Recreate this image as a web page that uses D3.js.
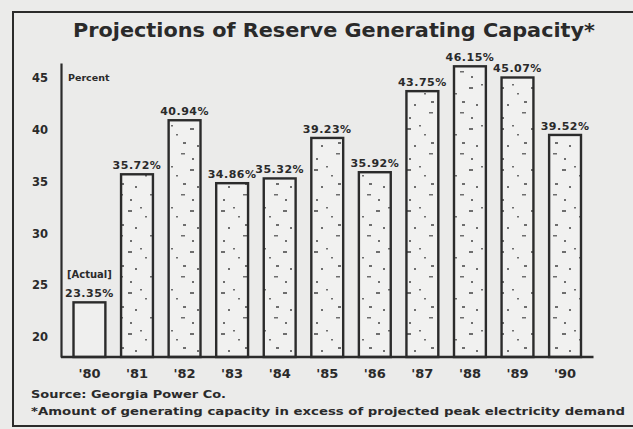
<!DOCTYPE html>
<html>
<head>
<meta charset="utf-8">
<script src="https://cdn.jsdelivr.net/npm/d3@7"></script>
<style>
  body { margin: 0; background: #ebebea; }
  svg { display: block; }
  text { fill: #2a2a2a; font-family: "DejaVu Sans", sans-serif; }
</style>
</head>
<body>
<svg width="633" height="429"></svg>
<script>
let years = ["'80", "'81", "'82", "'83", "'84", "'85", "'86", "'87", "'88", "'89", "'90"];
let reserve = [23.35, 35.72, 40.94, 34.86, 35.32, 39.23, 35.92, 43.75, 46.15, 45.07, 39.52];
let actual = [true, false, false, false, false, false, false, false, false, false, false];
let yTicks = [20, 25, 30, 35, 40, 45];

let svg = d3.select("svg"),
    width = +svg.attr("width"),
    height = +svg.attr("height"),
    ink = "#2b2b2b";

// speckled fill for projected years
let pat = svg.append("defs").append("pattern")
    .attr("id", "speck")
    .attr("patternUnits", "userSpaceOnUse")
    .attr("width", 31).attr("height", 41);
pat.append("rect").attr("width", 31).attr("height", 41).attr("fill", "#f1f1f0");
[[4, 5], [21, 11], [11, 22], [26, 30], [6, 35], [16, 2], [28, 19]].forEach(function(p, i) {
  pat.append("rect")
      .attr("x", p[0]).attr("y", p[1])
      .attr("width", i % 3 ? 2 : 4).attr("height", i % 2 ? 1.5 : 2)
      .attr("fill", "#6e6e6e");
});

// box round the graphic
svg.append("path")
    .attr("d", "M" + width + ",12H13V426H" + width)
    .attr("fill", "none")
    .attr("stroke", ink)
    .attr("stroke-width", 2);

svg.append("text")
    .attr("x", 73)
    .attr("y", 37)
    .attr("textLength", 522)
    .attr("lengthAdjust", "spacingAndGlyphs")
    .style("font-size", "19px")
    .style("font-weight", "bold")
    .text("Projections of Reserve Generating Capacity*");

let x = d3.scaleBand()
    .domain(years)
    .range([64, 590.5])
    .paddingInner(0.33)
    .paddingOuter(0.2);

let y = d3.scaleLinear()
    .domain([18.07, 46.47])
    .range([357, 63]);

let axisLeftX = 61;

// y axis
let gy = svg.append("g")
    .attr("transform", "translate(" + axisLeftX + ",0)")
    .call(d3.axisLeft(y).tickValues(yTicks).tickSize(0).tickPadding(13).tickSizeOuter(0));
gy.select(".domain").attr("stroke", ink).attr("stroke-width", 2.2);
gy.selectAll("text")
    .style("font-size", "11.5px")
    .style("font-weight", "bold")
    .attr("fill", ink);

svg.append("text")
    .attr("x", 68)
    .attr("y", y(45) + 3)
    .style("font-size", "9.5px")
    .style("font-weight", "bold")
    .text("Percent");

// bars
svg.append("g").selectAll("rect")
    .data(years)
    .enter().append("rect")
    .attr("x", function(d) { return x(d); })
    .attr("y", function(d, i) { return y(reserve[i]); })
    .attr("width", x.bandwidth())
    .attr("height", function(d, i) { return y.range()[0] - y(reserve[i]); })
    .attr("fill", function(d, i) { return actual[i] ? "#efefee" : "url(#speck)"; })
    .attr("stroke", ink)
    .attr("stroke-width", 2.4);

// value labels
svg.append("g").selectAll("text")
    .data(years)
    .enter().append("text")
    .attr("x", function(d) { return x(d) + x.bandwidth() / 2; })
    .attr("y", function(d, i) { return y(reserve[i]) - 5; })
    .attr("text-anchor", "middle")
    .style("font-size", "11px")
    .style("font-weight", "bold")
    .style("letter-spacing", "0.5px")
    .text(function(d, i) { return reserve[i].toFixed(2) + "%"; });

svg.append("text")
    .attr("x", x(years[0]) + x.bandwidth() / 2)
    .attr("y", y(reserve[0]) - 24)
    .attr("text-anchor", "middle")
    .style("font-size", "10px")
    .style("font-weight", "bold")
    .text("[Actual]");

// x axis
svg.append("line")
    .attr("x1", axisLeftX)
    .attr("x2", x.range()[1] + 3)
    .attr("y1", y.range()[0])
    .attr("y2", y.range()[0])
    .attr("stroke", ink)
    .attr("stroke-width", 2.6);

let gx = svg.append("g")
    .attr("transform", "translate(0," + y.range()[0] + ")")
    .call(d3.axisBottom(x).tickSize(0).tickPadding(12));
gx.select(".domain").remove();
gx.selectAll("text")
    .style("font-size", "13px")
    .style("font-weight", "bold")
    .attr("fill", ink);

svg.append("text")
    .attr("x", 31)
    .attr("y", 398)
    .attr("textLength", 195)
    .attr("lengthAdjust", "spacingAndGlyphs")
    .style("font-size", "10px")
    .style("font-weight", "bold")
    .text("Source: Georgia Power Co.");

svg.append("text")
    .attr("x", 31)
    .attr("y", 415)
    .attr("textLength", 594)
    .attr("lengthAdjust", "spacingAndGlyphs")
    .style("font-size", "10px")
    .style("font-weight", "bold")
    .text("*Amount of generating capacity in excess of projected peak electricity demand");
</script>
</body>
</html>
